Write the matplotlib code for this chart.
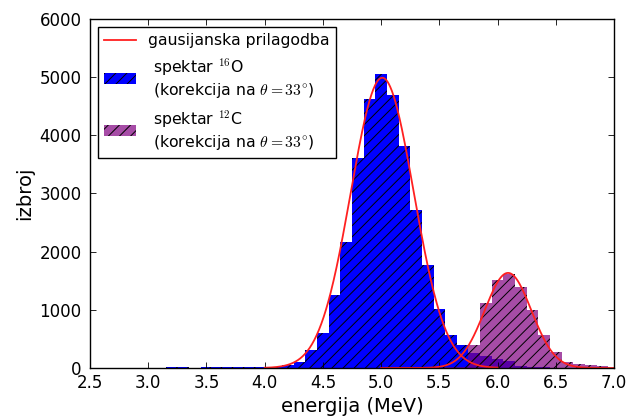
import numpy as np
import matplotlib
matplotlib.use('Agg')
import matplotlib.pyplot as plt

plt.rcParams['mathtext.fontset'] = 'cm'
plt.rcParams['hatch.color'] = 'black'
plt.rcParams['hatch.linewidth'] = 0.7

# spektar 16O : sredine binova (MeV) i broj dogadaja
e_o = [3.2, 3.3, 3.5, 3.6, 3.7, 3.8, 3.9, 4.0, 4.1, 4.2, 4.3, 4.4, 4.5, 4.6,
       4.7, 4.8, 4.9, 5.0, 5.1, 5.2, 5.3, 5.4, 5.5, 5.6, 5.7, 5.8, 5.9, 6.0,
       6.1, 6.2, 6.3, 6.4]
n_o = [15, 15, 10, 12, 12, 10, 12, 15, 20, 45, 110, 310, 595, 1250,
       2160, 3615, 4630, 5050, 4700, 3810, 2720, 1775, 1010, 568, 395, 264, 205, 150,
       115, 40, 20, 10]

# spektar 12C
e_c = [5.6, 5.7, 5.8, 5.9, 6.0, 6.1, 6.2, 6.3, 6.4, 6.5, 6.6, 6.7, 6.8, 6.9]
n_c = [10, 25, 390, 1112, 1515, 1621, 1400, 998, 567, 272, 109, 63, 52, 34]

# parametri gausijanske prilagodbe (amplituda, srednja vrijednost, sigma)
fit_o = (4990, 5.01, 0.27)
fit_c = (1635, 6.09, 0.20)
range_o = (4.0, 6.0)
range_c = (5.0, 7.0)

label_o = ' spektar $^{16}$O\n (korekcija na $\\theta=33^{\\circ}$)'
label_c = ' spektar $^{12}$C\n (korekcija na $\\theta=33^{\\circ}$)'


def gauss(x, a, mu, s):
    return a * np.exp(-(x - mu) ** 2 / (2 * s ** 2))


fig = plt.figure(figsize=(6.3, 4.19), dpi=100)
ax = fig.add_subplot(111)
fig.subplots_adjust(left=0.1429, right=0.9746, bottom=0.1217, top=0.9547)

bo = ax.bar(e_o, n_o, width=0.1, color='blue', linewidth=0, hatch='///', label=label_o)
bc = ax.bar(e_c, n_c, width=0.1, color='purple', alpha=0.7, linewidth=0, hatch='///', label=label_c)

xo = np.linspace(range_o[0], range_o[1], 400)
xc = np.linspace(range_c[0], range_c[1], 400)
lf, = ax.plot(xo, gauss(xo, *fit_o), '-', color='#ff2020', lw=1.3, label='gausijanska prilagodba')
ax.plot(xc, gauss(xc, *fit_c), '-', color='#ff2020', lw=1.3)

ax.set_xlim(2.5, 7.0)
ax.set_ylim(0, 6000)
ax.set_xticks(np.arange(2.5, 7.01, 0.5))
ax.set_yticks(range(0, 6001, 1000))
ax.tick_params(direction='in', top=True, right=True, length=4, width=0.6, labelsize=12)
ax.tick_params(axis='x', pad=4)
ax.tick_params(axis='y', pad=6)
for sp in ax.spines.values():
    sp.set_linewidth(1.0)

ax.set_xlabel('energija (MeV)', fontsize=14)
ax.set_ylabel('izbroj', fontsize=14)

leg = ax.legend([lf, bo, bc], ['gausijanska prilagodba', label_o, label_c],
                loc='upper left', fontsize=11.3, fancybox=False, framealpha=1,
                edgecolor='black', handlelength=2.0, labelspacing=0.55)
leg.get_frame().set_linewidth(1.0)

plt.savefig('out.png', dpi=100)
